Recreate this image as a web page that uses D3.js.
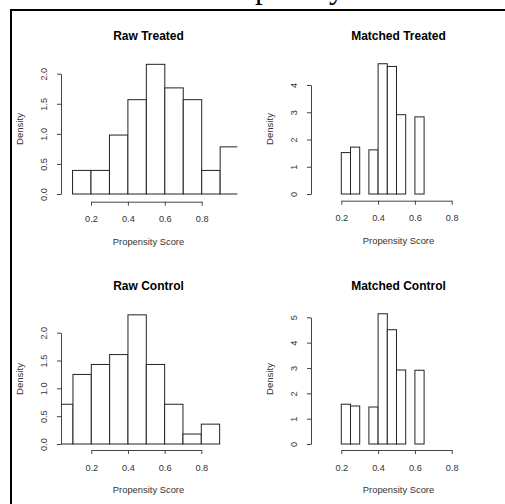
<!DOCTYPE html>
<html>
<head>
<meta charset="utf-8">
<script src="https://cdn.jsdelivr.net/npm/d3@7"></script>
<style>
  body { margin: 0; background: #fff; }
  svg { display: block; font-family: "Liberation Sans", Arial, sans-serif; }
</style>
</head>
<body>
<div class="chart"></div>
<script>
// histogram data (density per bin)
const rawTreatedBreaks = [0.1, 0.2, 0.3, 0.4, 0.5, 0.6, 0.7, 0.8, 0.9, 1.0];
const rawTreatedDensity = [0.392, 0.392, 0.98, 1.568, 2.156, 1.764, 1.568, 0.392, 0.784];

const rawControlBreaks = [0.0, 0.1, 0.2, 0.3, 0.4, 0.5, 0.6, 0.7, 0.8, 0.9];
const rawControlDensity = [0.714, 1.25, 1.429, 1.607, 2.321, 1.429, 0.714, 0.179, 0.357];

const matchedBreaks = [0.2, 0.25, 0.3, 0.35, 0.4, 0.45, 0.5, 0.55, 0.6, 0.65];
const matchedTreatedDensity = [1.52, 1.72, 0, 1.62, 4.78, 4.68, 2.91, 0, 2.83];
const matchedControlDensity = [1.57, 1.5, 0, 1.46, 5.14, 4.51, 2.92, 0, 2.91];

const xTicks = [0.2, 0.4, 0.6, 0.8];
const rawYTicks = [0, 0.5, 1, 1.5, 2];
const treatedYTicks = [0, 1, 2, 3, 4];
const controlYTicks = [0, 1, 2, 3, 4, 5];

const titles = ["Raw Treated", "Matched Treated", "Raw Control", "Matched Control"];
const xLabel = "Propensity Score";
const yLabel = "Density";

const W = 505, H = 504;

const svg = d3.select(".chart").append("svg")
  .attr("width", W).attr("height", H);

svg.append("rect").attr("width", W).attr("height", H).attr("fill", "#fff");

// cut-off heading of the page above the figure
svg.append("text")
  .attr("x", 212).attr("y", -1.7)
  .style("font-family", "'Liberation Serif', 'Times New Roman', serif")
  .style("font-size", "31px")
  .attr("fill", "#000")
  .text("Propensity");

// frame
svg.append("line").attr("x1", 10).attr("x2", W).attr("y1", 10).attr("y2", 10)
  .attr("stroke", "#000").attr("stroke-width", 2);
svg.append("line").attr("x1", 11).attr("x2", 11).attr("y1", 9).attr("y2", H)
  .attr("stroke", "#000").attr("stroke-width", 2);

const panels = [
  { title: titles[0], breaks: rawTreatedBreaks, dens: rawTreatedDensity, yTicks: rawYTicks,
    cx: 148.5, axisX: 61, clipR: 237.3, xr: [91, 201.7], yr: [194, 73.7], xAxisY: 201.7, top: 20 },
  { title: titles[1], breaks: matchedBreaks, dens: matchedTreatedDensity, yTicks: treatedYTicks,
    cx: 398.5, axisX: 311, clipR: 487, xr: [341.3, 451.7], yr: [194, 85], xAxisY: 200.7, top: 20 },
  { title: titles[2], breaks: rawControlBreaks, dens: rawControlDensity, yTicks: rawYTicks,
    cx: 148.5, axisX: 61, clipR: 237.3, xr: [91.3, 201.3], yr: [444, 332.7], xAxisY: 450, top: 270 },
  { title: titles[3], breaks: matchedBreaks, dens: matchedControlDensity, yTicks: controlYTicks,
    cx: 398.5, axisX: 311, clipR: 487, xr: [341.3, 451.7], yr: [444, 317.3], xAxisY: 450, top: 270 }
];

panels.forEach((p, i) => {
  const x = d3.scaleLinear().domain([0.2, 0.8]).range(p.xr);
  const y = d3.scaleLinear().domain([0, d3.max(p.yTicks)]).range(p.yr);

  const clipId = "clip" + i;
  svg.append("clipPath").attr("id", clipId)
    .append("rect")
    .attr("x", p.axisX).attr("y", p.top)
    .attr("width", p.clipR - p.axisX).attr("height", 200);

  const bins = p.dens.map((d, k) => ({ x0: p.breaks[k], x1: p.breaks[k + 1], d }));

  svg.append("g").attr("clip-path", `url(#${clipId})`)
    .selectAll("rect").data(bins).join("rect")
    .attr("x", b => x(b.x0))
    .attr("width", b => x(b.x1) - x(b.x0))
    .attr("y", b => y(b.d))
    .attr("height", b => y(0) - y(b.d))
    .attr("fill", "#fff")
    .attr("stroke", "#222")
    .attr("stroke-width", 1);

  // y axis
  const gy = svg.append("g")
    .attr("transform", `translate(${p.axisX},0)`)
    .call(d3.axisLeft(y).tickValues(p.yTicks).tickSize(4).tickSizeOuter(0)
      .tickFormat(p.yTicks[1] === 0.5 ? d3.format(".1f") : d3.format("d")));
  gy.select(".domain").attr("stroke", "#444");
  gy.selectAll(".tick line").attr("stroke", "#444");
  gy.selectAll(".tick text")
    .attr("transform", "rotate(-90)")
    .attr("text-anchor", "middle")
    .attr("x", 0).attr("y", -14.5).attr("dy", 0)
    .attr("fill", "#333")
    .style("font-size", "9.2px")
    .style("font-family", "'Liberation Sans', Arial, sans-serif");

  // x axis
  const gx = svg.append("g")
    .attr("transform", `translate(0,${p.xAxisY})`)
    .call(d3.axisBottom(x).tickValues(xTicks).tickSize(4).tickSizeOuter(0)
      .tickFormat(d3.format(".1f")));
  gx.select(".domain").attr("stroke", "#444");
  gx.selectAll(".tick line").attr("stroke", "#444");
  gx.selectAll(".tick text")
    .attr("y", 17.3).attr("dy", "0.35em")
    .attr("fill", "#333")
    .style("font-size", "9.2px")
    .style("font-family", "'Liberation Sans', Arial, sans-serif");

  // title
  svg.append("text")
    .attr("x", p.cx).attr("y", p.top + 15.5 + 4.2)
    .attr("text-anchor", "middle")
    .style("font-size", "12px").style("font-weight", "bold")
    .attr("fill", "#000")
    .text(p.title);

  // axis labels
  svg.append("text")
    .attr("x", p.cx).attr("y", p.xAxisY + 40 + 3.3)
    .attr("text-anchor", "middle")
    .style("font-size", "9.4px")
    .attr("fill", "#333")
    .text(xLabel);

  const ly = p.top + 109;
  svg.append("text")
    .attr("transform", `translate(${p.axisX - 41 + 3.3},${ly}) rotate(-90)`)
    .attr("text-anchor", "middle")
    .style("font-size", "9.6px")
    .attr("fill", "#333")
    .text(yLabel);
});
</script>
</body>
</html>
